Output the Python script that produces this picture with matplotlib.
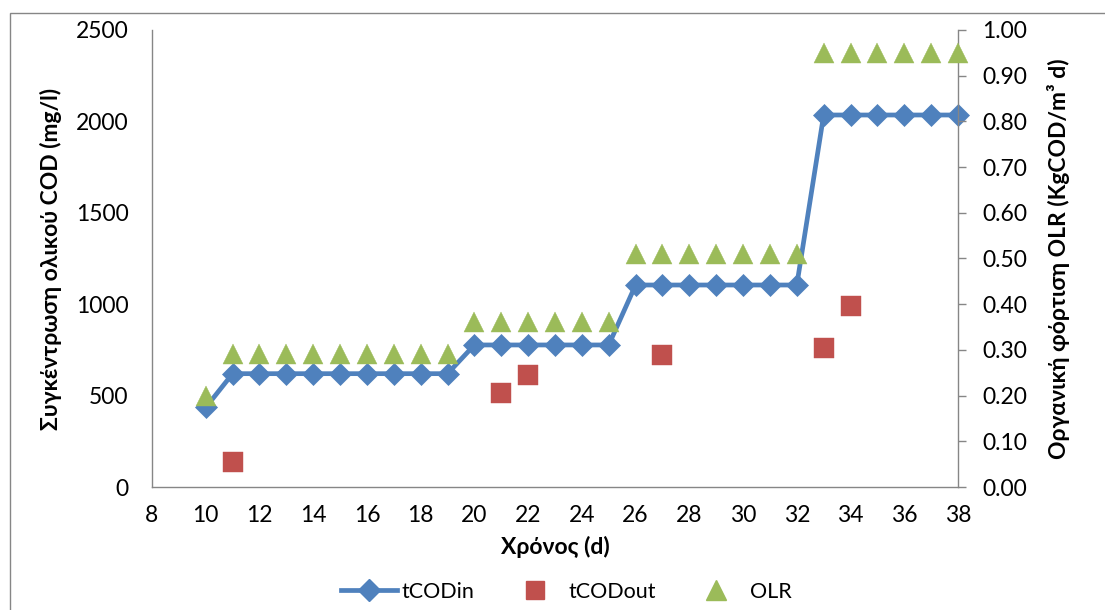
import matplotlib
matplotlib.use("Agg")
import matplotlib.pyplot as plt
from matplotlib.patches import Rectangle
from matplotlib.lines import Line2D
from matplotlib.ticker import FormatStrFormatter, MultipleLocator

plt.rcParams['font.family'] = ['Lato', 'DejaVu Sans']

days_in = [10, 11, 12, 13, 14, 15, 16, 17, 18, 19, 20, 21, 22, 23, 24, 25,
           26, 27, 28, 29, 30, 31, 32, 33, 34, 35, 36, 37, 38]
tcod_in = [435, 620, 620, 620, 620, 620, 620, 620, 620, 620,
           777, 777, 777, 777, 777, 777,
           1105, 1105, 1105, 1105, 1105, 1105, 1105,
           2035, 2035, 2035, 2035, 2035, 2035]
days_out = [11, 21, 22, 27, 33, 34]
tcod_out = [135, 512, 615, 722, 760, 990]
olr = [0.20, 0.29, 0.29, 0.29, 0.29, 0.29, 0.29, 0.29, 0.29, 0.29,
       0.36, 0.36, 0.36, 0.36, 0.36, 0.36,
       0.51, 0.51, 0.51, 0.51, 0.51, 0.51, 0.51,
       0.95, 0.95, 0.95, 0.95, 0.95, 0.95]

blue = '#4F81BD'
red = '#C0504D'
green = '#9BBB59'
gray = '#868686'

FS = 16.5

fig = plt.figure(figsize=(11.05, 6.10), dpi=100)
fig.patches.append(Rectangle((10/1105, -0.1), 1.2, (1 - 13/610) + 0.1,
                             transform=fig.transFigure, fill=False,
                             edgecolor=gray, linewidth=1.0))
ax = fig.add_axes([152/1105, 1 - 487/610, (958-152)/1105, (487-30)/610])
ax2 = ax.twinx()

ax.plot(days_in, tcod_in, color=blue, linewidth=3.4, marker='D',
        markersize=11.5, markerfacecolor=blue, markeredgecolor=blue,
        markeredgewidth=0.5, zorder=3, clip_on=False)
ax.plot(days_out, tcod_out, linestyle='none', marker='s', markersize=14.5,
        markerfacecolor=red, markeredgecolor=red, markeredgewidth=0.3,
        zorder=3, clip_on=False)
ax2.plot(days_in, olr, linestyle='none', marker='^', markersize=15,
         markerfacecolor=green, markeredgecolor=green, markeredgewidth=0.3,
         zorder=3, clip_on=False)

ax.set_xlim(8, 38)
ax.set_ylim(0, 2500)
ax2.set_ylim(0, 1.0)
ax.xaxis.set_major_locator(MultipleLocator(2))
ax.yaxis.set_major_locator(MultipleLocator(500))
ax2.yaxis.set_major_locator(MultipleLocator(0.1))
ax2.yaxis.set_major_formatter(FormatStrFormatter('%.2f'))

for a in (ax, ax2):
    a.spines['top'].set_visible(False)
    for s in ('left', 'right', 'bottom'):
        a.spines[s].set_color(gray)
        a.spines[s].set_linewidth(1.0)
ax.spines['right'].set_visible(False)
ax2.spines['left'].set_visible(False)
ax2.spines['bottom'].set_visible(False)

ax.tick_params(axis='x', length=0, labelsize=FS, pad=13, colors='black')
ax.tick_params(axis='y', length=0, labelsize=FS, pad=17, colors='black')
ax2.tick_params(axis='y', length=5.5, width=1, color=gray, labelsize=FS,
                pad=12, labelcolor='black', direction='out')

ax.set_xlabel('Χρόνος (d)', fontsize=FS, fontweight='bold', labelpad=7)
ax.set_ylabel('Συγκέντρωση ολικού COD (mg/l)', fontsize=FS,
              fontweight='bold', labelpad=10)
ax2.set_ylabel('Οργανική φόρτιση OLR (KgCOD/m³ d)', fontsize=FS,
               fontweight='bold', labelpad=14)

handles = [
    Line2D([], [], color=blue, linewidth=3.4, marker='D', markersize=11),
    Line2D([], [], linestyle='none', marker='s', markersize=13, color=red),
    Line2D([], [], linestyle='none', marker='^', markersize=14, color=green),
]
fig.legend(handles, ['tCODin', 'tCODout', 'OLR'], loc='center',
           bbox_to_anchor=(566/1105, 1 - 592/610), ncol=3, frameon=False,
           fontsize=15.5, handlelength=2.6, columnspacing=1.5,
           handletextpad=0.25)

fig.savefig('out.png', dpi=100)
